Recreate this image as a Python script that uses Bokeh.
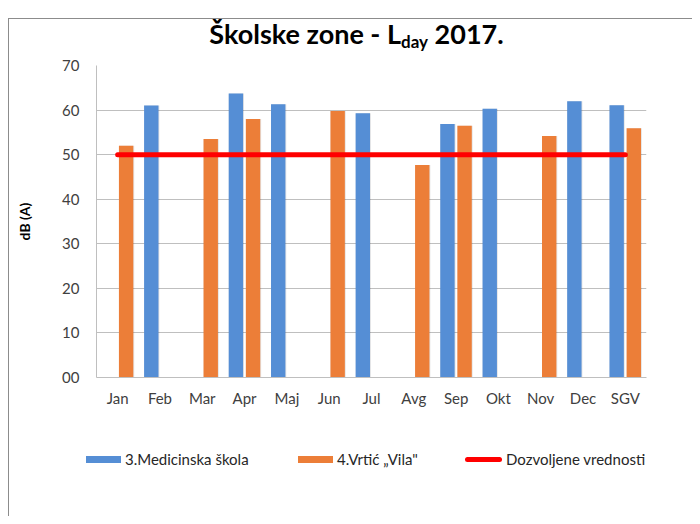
from bokeh.plotting import figure
from bokeh.layouts import column
from bokeh.models import ColumnDataSource, FactorRange, Range1d, FixedTicker, Div
from bokeh.transform import dodge
from bokeh.embed import file_html
from bokeh.resources import INLINE

months = ["Jan", "Feb", "Mar", "Apr", "Maj", "Jun", "Jul", "Avg", "Sep", "Okt", "Nov", "Dec", "SGV"]
medicinska = [None, 61.0, None, 63.7, 61.3, None, 59.3, None, 56.9, 60.3, None, 62.0, 61.1]
vrtic = [52.0, None, 53.5, 58.0, None, 59.8, None, 47.7, 56.5, None, 54.2, None, 55.9]
limit = [50] * len(months)
y_ticks = [0, 10, 20, 30, 40, 50, 60, 70]
y_tick_labels = ["00", "10", "20", "30", "40", "50", "60", "70"]
series_names = ["3.Medicinska škola", "4.Vrtić „Vila\"", "Dozvoljene vrednosti"]
title_main = "Školske zone - L"
title_sub = "day"
title_end = " 2017."

FONT = "Lato"
BLUE = "#558ED5"
ORANGE = "#EC7E38"
RED = "#FF0000"

def pairs(vals):
    xs = [m for m, v in zip(months, vals) if v is not None]
    ys = [v for v in vals if v is not None]
    return ColumnDataSource(dict(month=xs, val=ys))

src_med = pairs(medicinska)
src_vr = pairs(vrtic)
src_lim = ColumnDataSource(dict(month=months, val=limit))

# ---- main chart ----
p = figure(x_range=FactorRange(*months), y_range=Range1d(0, 70),
           width=683, height=356,
           min_border_left=87, min_border_right=46, min_border_top=9, min_border_bottom=35,
           output_backend="svg", toolbar_location=None, title=None)
p.outline_line_color = None
p.background_fill_color = "white"
p.border_fill_color = "white"

# soft shadows behind bars
p.vbar(x=dodge("month", -0.205 + 0.012, range=p.x_range), top="val", width=0.36, source=src_med,
       fill_color="#000000", fill_alpha=0.10, line_color=None)
p.vbar(x=dodge("month", 0.2 + 0.012, range=p.x_range), top="val", width=0.36, source=src_vr,
       fill_color="#000000", fill_alpha=0.10, line_color=None)

p.vbar(x=dodge("month", -0.205, range=p.x_range), top="val", width=0.34, source=src_med,
       fill_color=BLUE, line_color=None)
p.vbar(x=dodge("month", 0.2, range=p.x_range), top="val", width=0.34, source=src_vr,
       fill_color=ORANGE, line_color=None)
p.line(x="month", y="val", source=src_lim, line_color=RED, line_width=5, line_cap="round")

p.xgrid.grid_line_color = None
p.ygrid.grid_line_color = "#BFBFBF"
p.ygrid.grid_line_width = 1
p.yaxis.ticker = FixedTicker(ticks=y_ticks)
p.yaxis.major_label_overrides = {t: l for t, l in zip(y_ticks, y_tick_labels)}
for ax in (p.xaxis[0], p.yaxis[0]):
    ax.axis_line_color = "#BFBFBF"
    ax.major_tick_line_color = None
    ax.minor_tick_line_color = None
    ax.major_tick_out = 0
    ax.major_tick_in = 0
    ax.major_label_text_font = FONT
    ax.major_label_text_font_size = "15px"
    ax.major_label_text_color = "#404040"
p.xaxis.major_label_standoff = 11
p.yaxis.major_label_standoff = 17
p.yaxis.axis_label = "dB (A)"
p.yaxis.axis_label_text_font = FONT
p.yaxis.axis_label_text_font_style = "bold"
p.yaxis.axis_label_text_font_size = "14px"
p.yaxis.axis_label_text_color = "#000000"
p.yaxis.axis_label_standoff = 26

# ---- legend strip (HTML key) ----
key_colors = [BLUE, ORANGE, RED]
key_left = [77, 289, 456]
parts = []
for name, col, left in zip(series_names, key_colors, key_left):
    if col == RED:
        sw = (f"<span style='position:absolute;left:{left}px;top:45px;width:37px;height:5px;"
              f"border-radius:3px;background:{col}'></span>")
    else:
        sw = (f"<span style='position:absolute;left:{left}px;top:44px;width:35px;height:7px;"
              f"background:{col}'></span>")
    tx = (f"<span style='position:absolute;left:{left + 39 + (2 if col == RED else 0)}px;top:37px;"
          f"line-height:20px;white-space:nowrap'>{name.replace(chr(34), '&quot;')}</span>")
    parts.append(sw + tx)
legend_div = Div(text=("<div style='position:relative;width:683px;height:104px;'>" + "".join(parts) + "</div>"),
                 width=683, height=104, margin=0,
                 styles={"font-family": FONT, "font-size": "15px", "color": "#262626"})

title_div = Div(text=f"{title_main}<sub style='font-size:17px;vertical-align:-4px'>{title_sub}</sub>{title_end}",
                width=683, height=37, margin=0,
                styles={"font-family": FONT, "font-weight": "bold", "font-size": "27px",
                        "line-height": "30px", "text-align": "center", "color": "#000000",
                        "padding-left": "12px", "padding-top": "0px",
                        "box-sizing": "border-box", "white-space": "nowrap"})

layout = column(title_div, p, legend_div, spacing=0,
                styles={"border-top": "1px solid #8c8c8c", "border-left": "1px solid #8c8c8c",
                        "margin-top": "18px", "margin-left": "8px", "background": "white"})

open("out.html", "w").write(file_html(layout, INLINE))
